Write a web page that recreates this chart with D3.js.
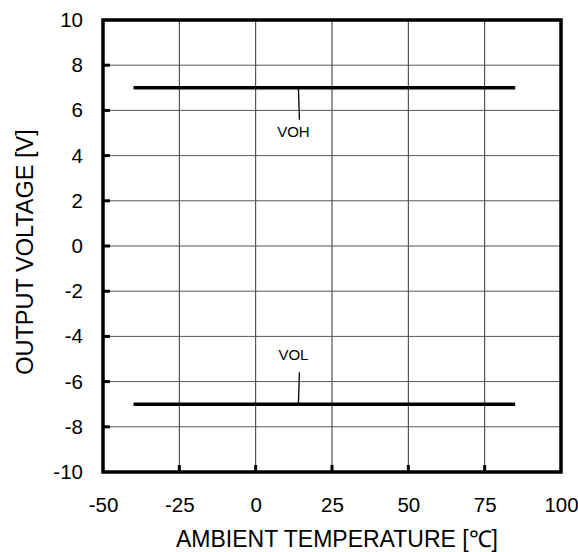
<!DOCTYPE html>
<html><head><meta charset="utf-8">
<script src="https://cdn.jsdelivr.net/npm/d3@7"></script>
<style>body{margin:0;background:#fff}svg{display:block}text{font-family:Arial,"Liberation Sans",sans-serif;fill:#000}</style>
</head><body><svg id="c" width="578" height="552"></svg>
<script>
const xTicks=[-50,-25,0,25,50,75,100];
const yTicks=[-10,-8,-6,-4,-2,0,2,4,6,8,10];
const temps=[-40,85];
const voh=[7,7];
const vol=[-7,-7];
const labels=[{name:"VOH",x:14,y:7,dir:1},{name:"VOL",x:14,y:-7,dir:-1}];

const svg=d3.select("#c");
const L=103,R=561,T=20,B=472;
const x=d3.scaleLinear().domain([-50,100]).range([L,R]);
const y=d3.scaleLinear().domain([-10,10]).range([B,T]);
const fmt=d=>String(d);
const g=svg.append("g");
// grid
g.selectAll(".gx").data(xTicks.slice(1,-1)).enter().append("line")
 .attr("x1",d=>x(d)).attr("x2",d=>x(d)).attr("y1",T).attr("y2",B)
 .attr("stroke","#333").attr("stroke-width",1);
g.selectAll(".gy").data(yTicks.slice(1,-1)).enter().append("line")
 .attr("y1",d=>y(d)).attr("y2",d=>y(d)).attr("x1",L).attr("x2",R)
 .attr("stroke","#555").attr("stroke-width",1);
// inward ticks
g.selectAll(".tx").data(xTicks.slice(1,-1)).enter().append("line")
 .attr("x1",d=>x(d)).attr("x2",d=>x(d)).attr("y1",B).attr("y2",B-7)
 .attr("stroke","#000").attr("stroke-width",3);
g.selectAll(".ty").data(yTicks.slice(1,-1)).enter().append("line")
 .attr("y1",d=>y(d)).attr("y2",d=>y(d)).attr("x1",L).attr("x2",L+7)
 .attr("stroke","#000").attr("stroke-width",3);
// axes labels via d3 axes
const xa=svg.append("g").attr("transform",`translate(0,${B})`)
 .call(d3.axisBottom(x).tickValues(xTicks).tickSize(0).tickPadding(25).tickFormat(fmt));
const ya=svg.append("g").attr("transform",`translate(${L},0)`)
 .call(d3.axisLeft(y).tickValues(yTicks).tickSize(0).tickPadding(20).tickFormat(fmt));
[xa,ya].forEach(a=>{a.select(".domain").remove();a.selectAll("text").attr("font-size",20.5).attr("font-family","Arial,'Liberation Sans',sans-serif").attr("fill","#000");});
// frame
svg.append("rect").attr("x",L).attr("y",T).attr("width",R-L).attr("height",B-T)
 .attr("fill","none").attr("stroke","#000").attr("stroke-width",3.5);
// series
const line=d3.line().x(d=>x(d[0])).y(d=>y(d[1]));
[voh,vol].forEach(s=>{
 svg.append("path").datum(temps.map((t,i)=>[t,s[i]])).attr("d",line)
  .attr("fill","none").attr("stroke","#000").attr("stroke-width",3.5);
});
// labels
labels.forEach(l=>{
 const y0=y(l.y);
 svg.append("line").attr("x1",x(l.x)).attr("x2",x(l.x)+1).attr("y1",y0).attr("y2",y0+l.dir*32)
  .attr("stroke","#000").attr("stroke-width",1.3);
 svg.append("text").attr("x",x(l.x)-5).attr("y",l.dir>0?y0+49:y0-44).attr("text-anchor","middle")
  .attr("font-size",15).text(l.name);
});
svg.append("text").attr("x",337).attr("y",547).attr("text-anchor","middle").attr("font-size",23)
 .text("AMBIENT TEMPERATURE [℃]");
svg.append("text").attr("transform",`translate(33,252) rotate(-90)`).attr("text-anchor","middle").attr("font-size",23.5)
 .text("OUTPUT VOLTAGE [V]");
</script></body></html>
